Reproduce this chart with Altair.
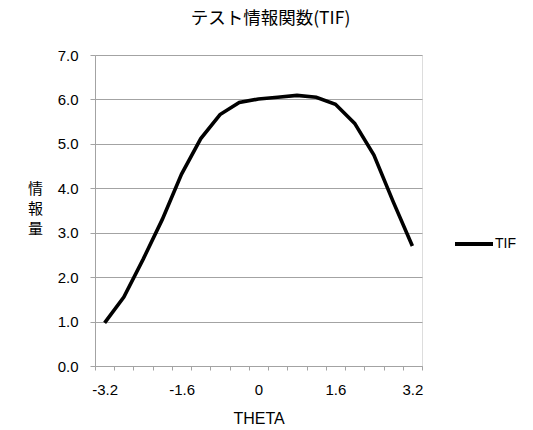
import altair as alt
import pandas as pd

theta_labels = ["-3.2", "-2.8", "-2.4", "-2.0", "-1.6", "-1.2", "-0.8", "-0.4", "0",
                "0.4", "0.8", "1.2", "1.6", "2.0", "2.4", "2.8", "3.2"]
tif_values = [0.97, 1.55, 2.40, 3.30, 4.32, 5.12, 5.66, 5.93, 6.01,
              6.05, 6.09, 6.05, 5.89, 5.46, 4.75, 3.70, 2.70]
shown_labels = ["-3.2", "-1.6", "0", "1.6", "3.2"]
y_ticks = [0, 1, 2, 3, 4, 5, 6, 7]

df = pd.DataFrame({"THETA": theta_labels, "TIF": tif_values, "series": "TIF"})

LATIN = "Liberation Sans"
CJK = "Noto Sans CJK JP"
GRAY = "#a3a3a3"

label_test = "indexof(" + str(shown_labels).replace("'", "\"") + ", datum.label) >= 0 ? datum.label : ''"

chart = alt.Chart(df).mark_line(strokeWidth=3.6, strokeJoin="miter", strokeCap="butt").encode(
    x=alt.X("THETA:O", sort=theta_labels,
            scale=alt.Scale(type="band", paddingInner=0, paddingOuter=0),
            axis=alt.Axis(title="THETA", labelAngle=0, tickBand="extent",
                          labelExpr=label_test, grid=False,
                          domainColor=GRAY, tickColor=GRAY, tickSize=4,
                          labelFont=LATIN, labelFontSize=15, labelColor="#000",
                          labelPadding=12, titleFont=LATIN, titleFontSize=16,
                          titleFontWeight="normal", titleColor="#000", titlePadding=13)),
    y=alt.Y("TIF:Q", scale=alt.Scale(domain=[0, 7], nice=False),
            axis=alt.Axis(values=y_ticks, format=".1f", title=["情", "報", "量"],
                          titleAngle=0, titleAlign="center", titleBaseline="middle",
                          titleX=-60, titleY=133, titleLineHeight=20,
                          titleFont=CJK, titleFontSize=15, titleFontWeight="normal",
                          titleColor="#000",
                          grid=True, gridColor=GRAY, gridWidth=1,
                          domainColor=GRAY, tickColor=GRAY, tickSize=5,
                          labelFont=LATIN, labelFontSize=15, labelColor="#000",
                          labelPadding=12)),
    color=alt.Color("series:N", scale=alt.Scale(range=["#000000"]),
                    legend=alt.Legend(title=None, orient="none", legendX=358, legendY=168,
                                      symbolType="stroke", symbolSize=1444,
                                      symbolStrokeWidth=4, labelFont=LATIN,
                                      labelFontSize=14, labelColor="#000",
                                      labelOffset=0, padding=0)),
).properties(
    width=327,
    height=311,
    title=alt.TitleParams("テスト情報関数(TIF)", font=CJK, fontSize=17.5,
                          fontWeight="normal", color="#000", anchor="middle",
                          dx=12, offset=21),
    autosize=alt.AutoSizeParams(type="none"),
    padding={"left": 95, "top": 55, "right": 111, "bottom": 64},
).configure_view(stroke=GRAY, strokeWidth=1).configure(background="white")

chart.save("out.html", embed_options={"renderer": "svg", "actions": False})
